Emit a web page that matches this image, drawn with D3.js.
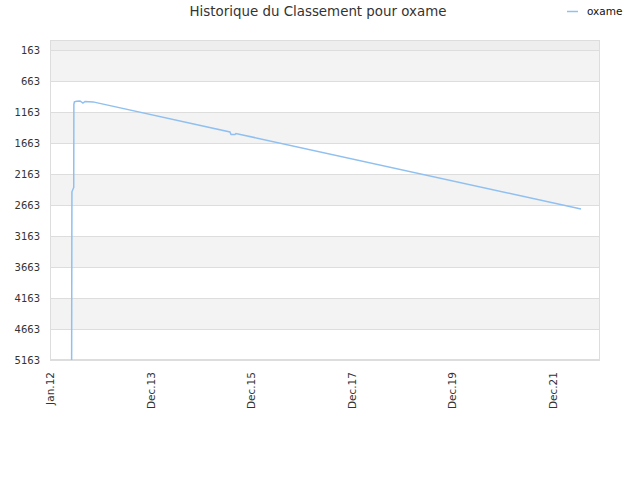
<!DOCTYPE html>
<html>
<head>
<meta charset="utf-8">
<script src="https://cdn.jsdelivr.net/npm/d3@7"></script>
<style>
html,body{margin:0;padding:0;background:#fff;}
svg{display:block;font-family:"DejaVu Sans",sans-serif;}
</style>
</head>
<body>
<svg id="chart" width="640" height="480"></svg>
<script>
// ---- data ----
const seriesName = "oxame";
const dates = ["2012-06-04","2012-06-06","2012-06-19","2012-06-20","2012-06-24","2012-07-10","2012-08-03","2012-08-24","2012-09-08","2012-11-04","2015-07-13","2015-07-21","2015-08-18","2015-08-25","2022-06-01"];
const ranks = [5163,2450,2380,1040,1000,990,985,1018,993,1000,1486,1526,1526,1510,2728];
const yTicks = [163,663,1163,1663,2163,2663,3163,3663,4163,4663,5163];
const xTickDates = ["2012-01-01","2013-12-21","2015-12-11","2017-11-30","2019-11-20","2021-11-09"];
const xTickLabels = ["Jan.12","Dec.13","Dec.15","Dec.17","Dec.19","Dec.21"];
const xDomain = ["2012-01-01","2022-10-15"];
const yDomain = [2,5163];

// ---- layout ----
const svg = d3.select("#chart");
const m = {left:50, right:600, top:40, bottom:360};
const parse = d3.timeParse("%Y-%m-%d");
const x = d3.scaleTime().domain(xDomain.map(parse)).range([m.left, m.right]);
const y = d3.scaleLinear().domain(yDomain).range([m.top, m.bottom]);

// bands
const bandEdges = [yDomain[0]].concat(yTicks);
const bands = [];
for (let i = 0; i < bandEdges.length - 1; i++) bands.push({a: bandEdges[i], b: bandEdges[i+1], i});
svg.append("g").selectAll("rect").data(bands).join("rect")
  .attr("x", m.left).attr("width", m.right - m.left)
  .attr("y", d => y(d.a)).attr("height", d => y(d.b) - y(d.a))
  .attr("fill", d => d.i === 0 ? "#eeeeee" : (d.i % 2 === 1 ? "#f3f3f3" : "#ffffff"));

// grid lines
svg.append("g").selectAll("line").data(yTicks).join("line")
  .attr("x1", m.left).attr("x2", m.right)
  .attr("y1", d => Math.round(y(d)) + 0.5).attr("y2", d => Math.round(y(d)) + 0.5)
  .attr("stroke", "#dddddd").attr("stroke-width", 1);

// border
svg.append("rect").attr("x", m.left + 0.5).attr("y", m.top + 0.5)
  .attr("width", m.right - m.left - 1).attr("height", m.bottom - m.top - 1)
  .attr("fill", "none").attr("stroke", "#dddddd");

// y axis labels
const yAxis = d3.axisLeft(y).tickValues(yTicks).tickSize(0).tickPadding(10).tickFormat(d3.format("d"));
const gy = svg.append("g").attr("transform", `translate(${m.left},0)`).call(yAxis);
gy.select(".domain").remove();
gy.selectAll("text").attr("fill", "#333").style("font-size", "10px").style("font-family", "DejaVu Sans");

// x axis labels
const xAxis = d3.axisBottom(x).tickValues(xTickDates.map(parse)).tickSize(0)
  .tickFormat((d, i) => xTickLabels[i]);
const gx = svg.append("g").attr("transform", `translate(0,${m.bottom})`).call(xAxis);
gx.select(".domain").remove();
gx.selectAll("text")
  .attr("fill", "#333").style("font-size", "10.5px").style("font-family", "DejaVu Sans")
  .attr("text-anchor", "end").attr("dy", "0.35em")
  .attr("transform", "translate(0,12) rotate(-90)").attr("x", 0).attr("y", 0);

// line
const data = dates.map((d, i) => ({date: parse(d), rank: ranks[i]}));
svg.append("path").datum(data)
  .attr("fill", "none").attr("stroke", "#90c0f0").attr("stroke-width", 1.5)
  .attr("d", d3.line().x(d => x(d.date)).y(d => y(d.rank)));

// title
svg.append("text").attr("x", 318).attr("y", 16).attr("text-anchor", "middle")
  .attr("fill", "#333").style("font-size", "13.4px").text("Historique du Classement pour oxame");

// legend
svg.append("line").attr("x1", 567).attr("x2", 578).attr("y1", 11.5).attr("y2", 11.5)
  .attr("stroke", "#90c0f0").attr("stroke-width", 1.5);
svg.append("text").attr("x", 587).attr("y", 15).attr("fill", "#111")
  .style("font-size", "10.5px").text(seriesName);
</script>
</body>
</html>
